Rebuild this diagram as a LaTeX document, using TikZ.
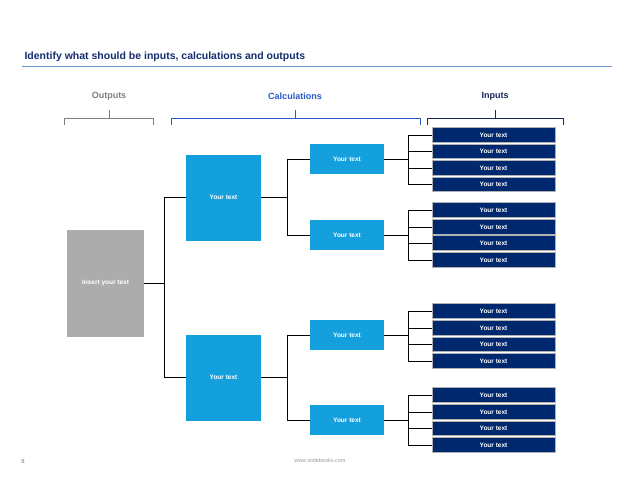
\documentclass[tikz,border=0pt]{standalone}
\usepackage{fontspec}
\setmainfont{Liberation Sans}
\definecolor{navy}{RGB}{0,40,110}
\definecolor{cyanb}{RGB}{20,160,220}
\definecolor{titleblue}{RGB}{20,45,110}
\definecolor{rulec}{RGB}{110,150,210}
\definecolor{calcc}{RGB}{40,90,200}
\definecolor{inpc}{RGB}{20,40,90}
\begin{document}
\begin{tikzpicture}[x=1pt,y=-1pt,
  inbox/.style={draw=gray!60,line width=0.8pt,fill=navy,text=white,font=\fontsize{6.5}{7}\selectfont\bfseries,minimum width=123pt,minimum height=14.5pt,inner sep=0pt},
  calcbox/.style={fill=cyanb,text=white,font=\fontsize{6.5}{7}\selectfont\bfseries,inner sep=0pt},
  conn/.style={line width=0.6pt,black},
  brace/.style={line width=0.7pt}]
\useasboundingbox (0,0) rectangle (638,479);
\fill[white] (0,0) rectangle (638,479);
\node[anchor=west,font=\fontsize{10.5}{12}\selectfont\bfseries,text=titleblue] (title) at (21,57) {Identify what should be inputs, calculations and outputs};
\draw[line width=1pt,rulec] (22,66.5) -- (612,66.5);
\node[font=\fontsize{9}{10}\selectfont\bfseries,text=gray] (ho) at (109,96) {Outputs};
\node[font=\fontsize{9}{10}\selectfont\bfseries,text=calcc] (hc) at (295,96) {Calculations};
\node[font=\fontsize{9}{10}\selectfont\bfseries,text=inpc] (hi) at (495,96) {Inputs};
\draw[brace,gray] (64,125) -- (64,118) -- (153,118) -- (153,125) (109,118) -- (109,110);
\draw[brace,calcc] (171,125) -- (171,118) -- (420,118) -- (420,125) (295,118) -- (295,110);
\draw[brace,inpc] (427,125) -- (427,118) -- (563,118) -- (563,125) (495,118) -- (495,110);
\node[fill=gray!65,text=white,font=\fontsize{6.5}{7}\selectfont\bfseries,minimum width=77pt,minimum height=107pt,inner sep=0pt] (out) at (105.5,283) {Insert your text};
\node[calcbox,minimum width=75pt,minimum height=86pt] (a1) at (223.5,197.5) {Your text};
\node[calcbox,minimum width=75pt,minimum height=86pt] (a2) at (223.5,377.5) {Your text};
\coordinate (j0) at (164,283);
\draw[conn] (out.east) -- (j0) (j0 |- a1.west) -- (j0 |- a2.west) (j0 |- a1.west) -- (a1.west) (j0 |- a2.west) -- (a2.west);
\foreach \cy/\nm in {159/b1,235/b2,335/b3,420/b4}{
  \node[calcbox,minimum width=74pt,minimum height=30pt] (\nm) at (347,\cy) {Your text};
}
\foreach \p/\c/\d in {a1/b1/b2,a2/b3/b4}{
  \coordinate (j\p) at (287,0);
  \draw[conn] (\p.east) -- (j\p |- \p.east) (j\p |- \c.west) -- (j\p |- \d.west) (j\p |- \c.west) -- (\c.west) (j\p |- \d.west) -- (\d.west);
}
\foreach \g/\ya/\yb/\yc/\yd in {b1/135/151.5/168/184.5,b2/210/227/243/260,b3/311/328/344.5/361,b4/395/412/428.5/445}{
  \node[inbox] (\g i1) at (493.5,\ya) {Your text};
  \node[inbox] (\g i2) at (493.5,\yb) {Your text};
  \node[inbox] (\g i3) at (493.5,\yc) {Your text};
  \node[inbox] (\g i4) at (493.5,\yd) {Your text};
  \coordinate (\g j) at (408,0);
  \draw[conn] (\g.east) -- (\g j |- \g.east) (\g j |- \g i1.west) -- (\g j |- \g i4.west);
  \foreach \k in {1,2,3,4}{\draw[conn] (\g j |- \g i\k.west) -- (\g i\k.west);}
}
\node[font=\fontsize{6}{7}\selectfont,text=gray] (pg) at (23,461) {8};
\node[font=\fontsize{5.5}{7}\selectfont,text=gray!80] (url) at (320,461) {www.slidebooks.com};
\end{tikzpicture}
\end{document}
